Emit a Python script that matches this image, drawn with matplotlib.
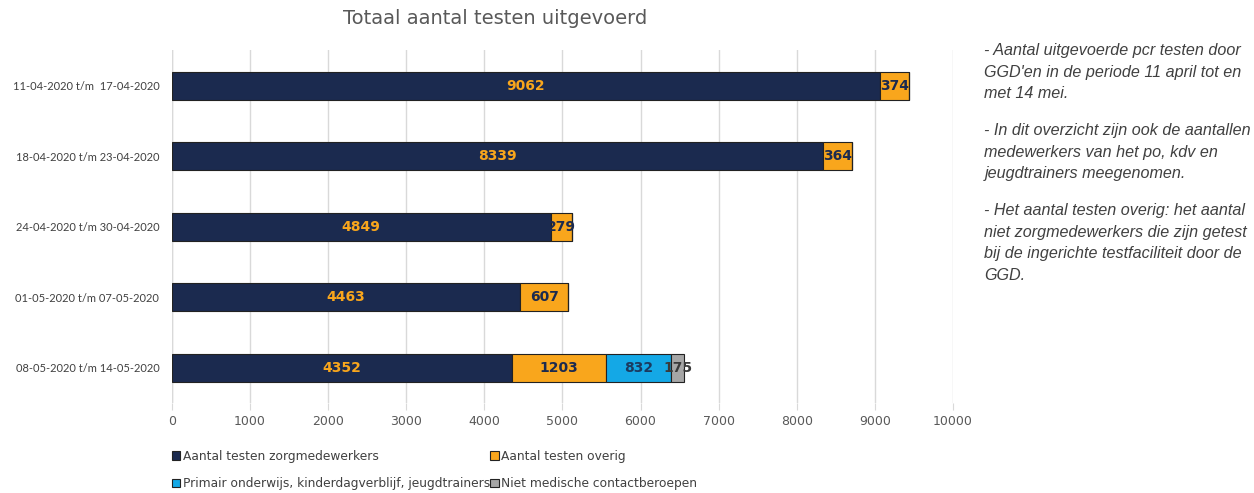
import numpy as np
import matplotlib.pyplot as plt
from matplotlib.patches import Patch

# data
perioden = ["11-04-2020 t/m  17-04-2020", "18-04-2020 t/m 23-04-2020",
            "24-04-2020 t/m 30-04-2020", "01-05-2020 t/m 07-05-2020",
            "08-05-2020 t/m 14-05-2020"]
zorg = [9062, 8339, 4849, 4463, 4352]
overig = [374, 364, 279, 607, 1203]
po_kdv = [0, 0, 0, 0, 832]
niet_med = [0, 0, 0, 0, 175]
reeksen = ["Aantal testen zorgmedewerkers", "Aantal testen overig",
           "Primair onderwijs, kinderdagverblijf, jeugdtrainers",
           "Niet medische contactberoepen"]
xticks = [0, 1000, 2000, 3000, 4000, 5000, 6000, 7000, 8000, 9000, 10000]

kleuren = ["#1B2A4F", "#F9A61C", "#14A8E6", "#A6A6A6"]
labelkleur = ["#F9A61C", "#1B2A4F", "#1B3A5F", "#3A3A3A"]

fig = plt.figure(figsize=(12.54, 4.93), dpi=100)
ax = fig.add_axes([0.137, 0.1826, 0.623, 0.715])

y = np.arange(len(perioden))
links = np.zeros(len(perioden))
for i, data in enumerate([zorg, overig, po_kdv, niet_med]):
    data = np.array(data, dtype=float)
    ax.barh(y, data, left=links, height=0.4, color=kleuren[i],
            edgecolor="#222222", linewidth=0.8, zorder=3)
    for yy, l, v in zip(y, links, data):
        if v > 0:
            ax.text(l + v / 2, yy, str(int(v)), ha="center", va="center",
                    fontsize=10, fontweight="bold", color=labelkleur[i],
                    family="DejaVu Sans", zorder=4)
    links = links + data

ax.set_xlim(0, 10000)
ax.set_ylim(4.5, -0.5)
ax.set_yticks(y)
ax.set_yticklabels(perioden, fontsize=8, color="#404040", family="Lato")
ax.set_xticks(xticks)
ax.set_xticklabels([str(t) for t in xticks], fontsize=9, color="#595959", family="DejaVu Sans")
ax.tick_params(axis="y", length=0, pad=9)
ax.tick_params(axis="x", length=5, color="#D9D9D9", pad=4)
ax.grid(axis="x", color="#D9D9D9", linewidth=1, zorder=0)
for s in ax.spines.values():
    s.set_visible(False)
ax.axvline(0, color="#D9D9D9", linewidth=1, zorder=1)

fig.text(0.395, 0.962, "Totaal aantal testen uitgevoerd", ha="center", va="center",
         fontsize=14, color="#595959", family="DejaVu Sans")

# legenda rij voor rij vullen
volgorde = [0, 2, 1, 3]
handles = [Patch(facecolor=kleuren[k], edgecolor="#222222", linewidth=0.8) for k in volgorde]
fig.legend(handles, [reeksen[k] for k in volgorde], loc="lower left", bbox_to_anchor=(0.130, -0.012),
           ncol=2, frameon=False, handlelength=0.7, handleheight=0.7,
           handletextpad=0.2, columnspacing=0.05, labelspacing=1.2, borderaxespad=0.3,
           prop={"family": "DejaVu Sans", "size": 8.8}, labelcolor="#404040")

alinea = ["- Aantal uitgevoerde pcr testen door\nGGD'en in de periode 11 april tot en\nmet 14 mei.",
          "- In dit overzicht zijn ook de aantallen\nmedewerkers van het po, kdv en\njeugdtrainers meegenomen.",
          "- Het aantal testen overig: het aantal\nniet zorgmedewerkers die zijn getest\nbij de ingerichte testfaciliteit door de\nGGD."]
for tekst, top in zip(alinea, [43, 123, 203]):
    fig.text(0.785, 1 - top / 493, tekst, ha="left", va="top", fontsize=11.6, style="italic",
             color="#404040", family="Liberation Sans", linespacing=1.55)

fig.savefig("out.png", dpi=100, facecolor="white")
